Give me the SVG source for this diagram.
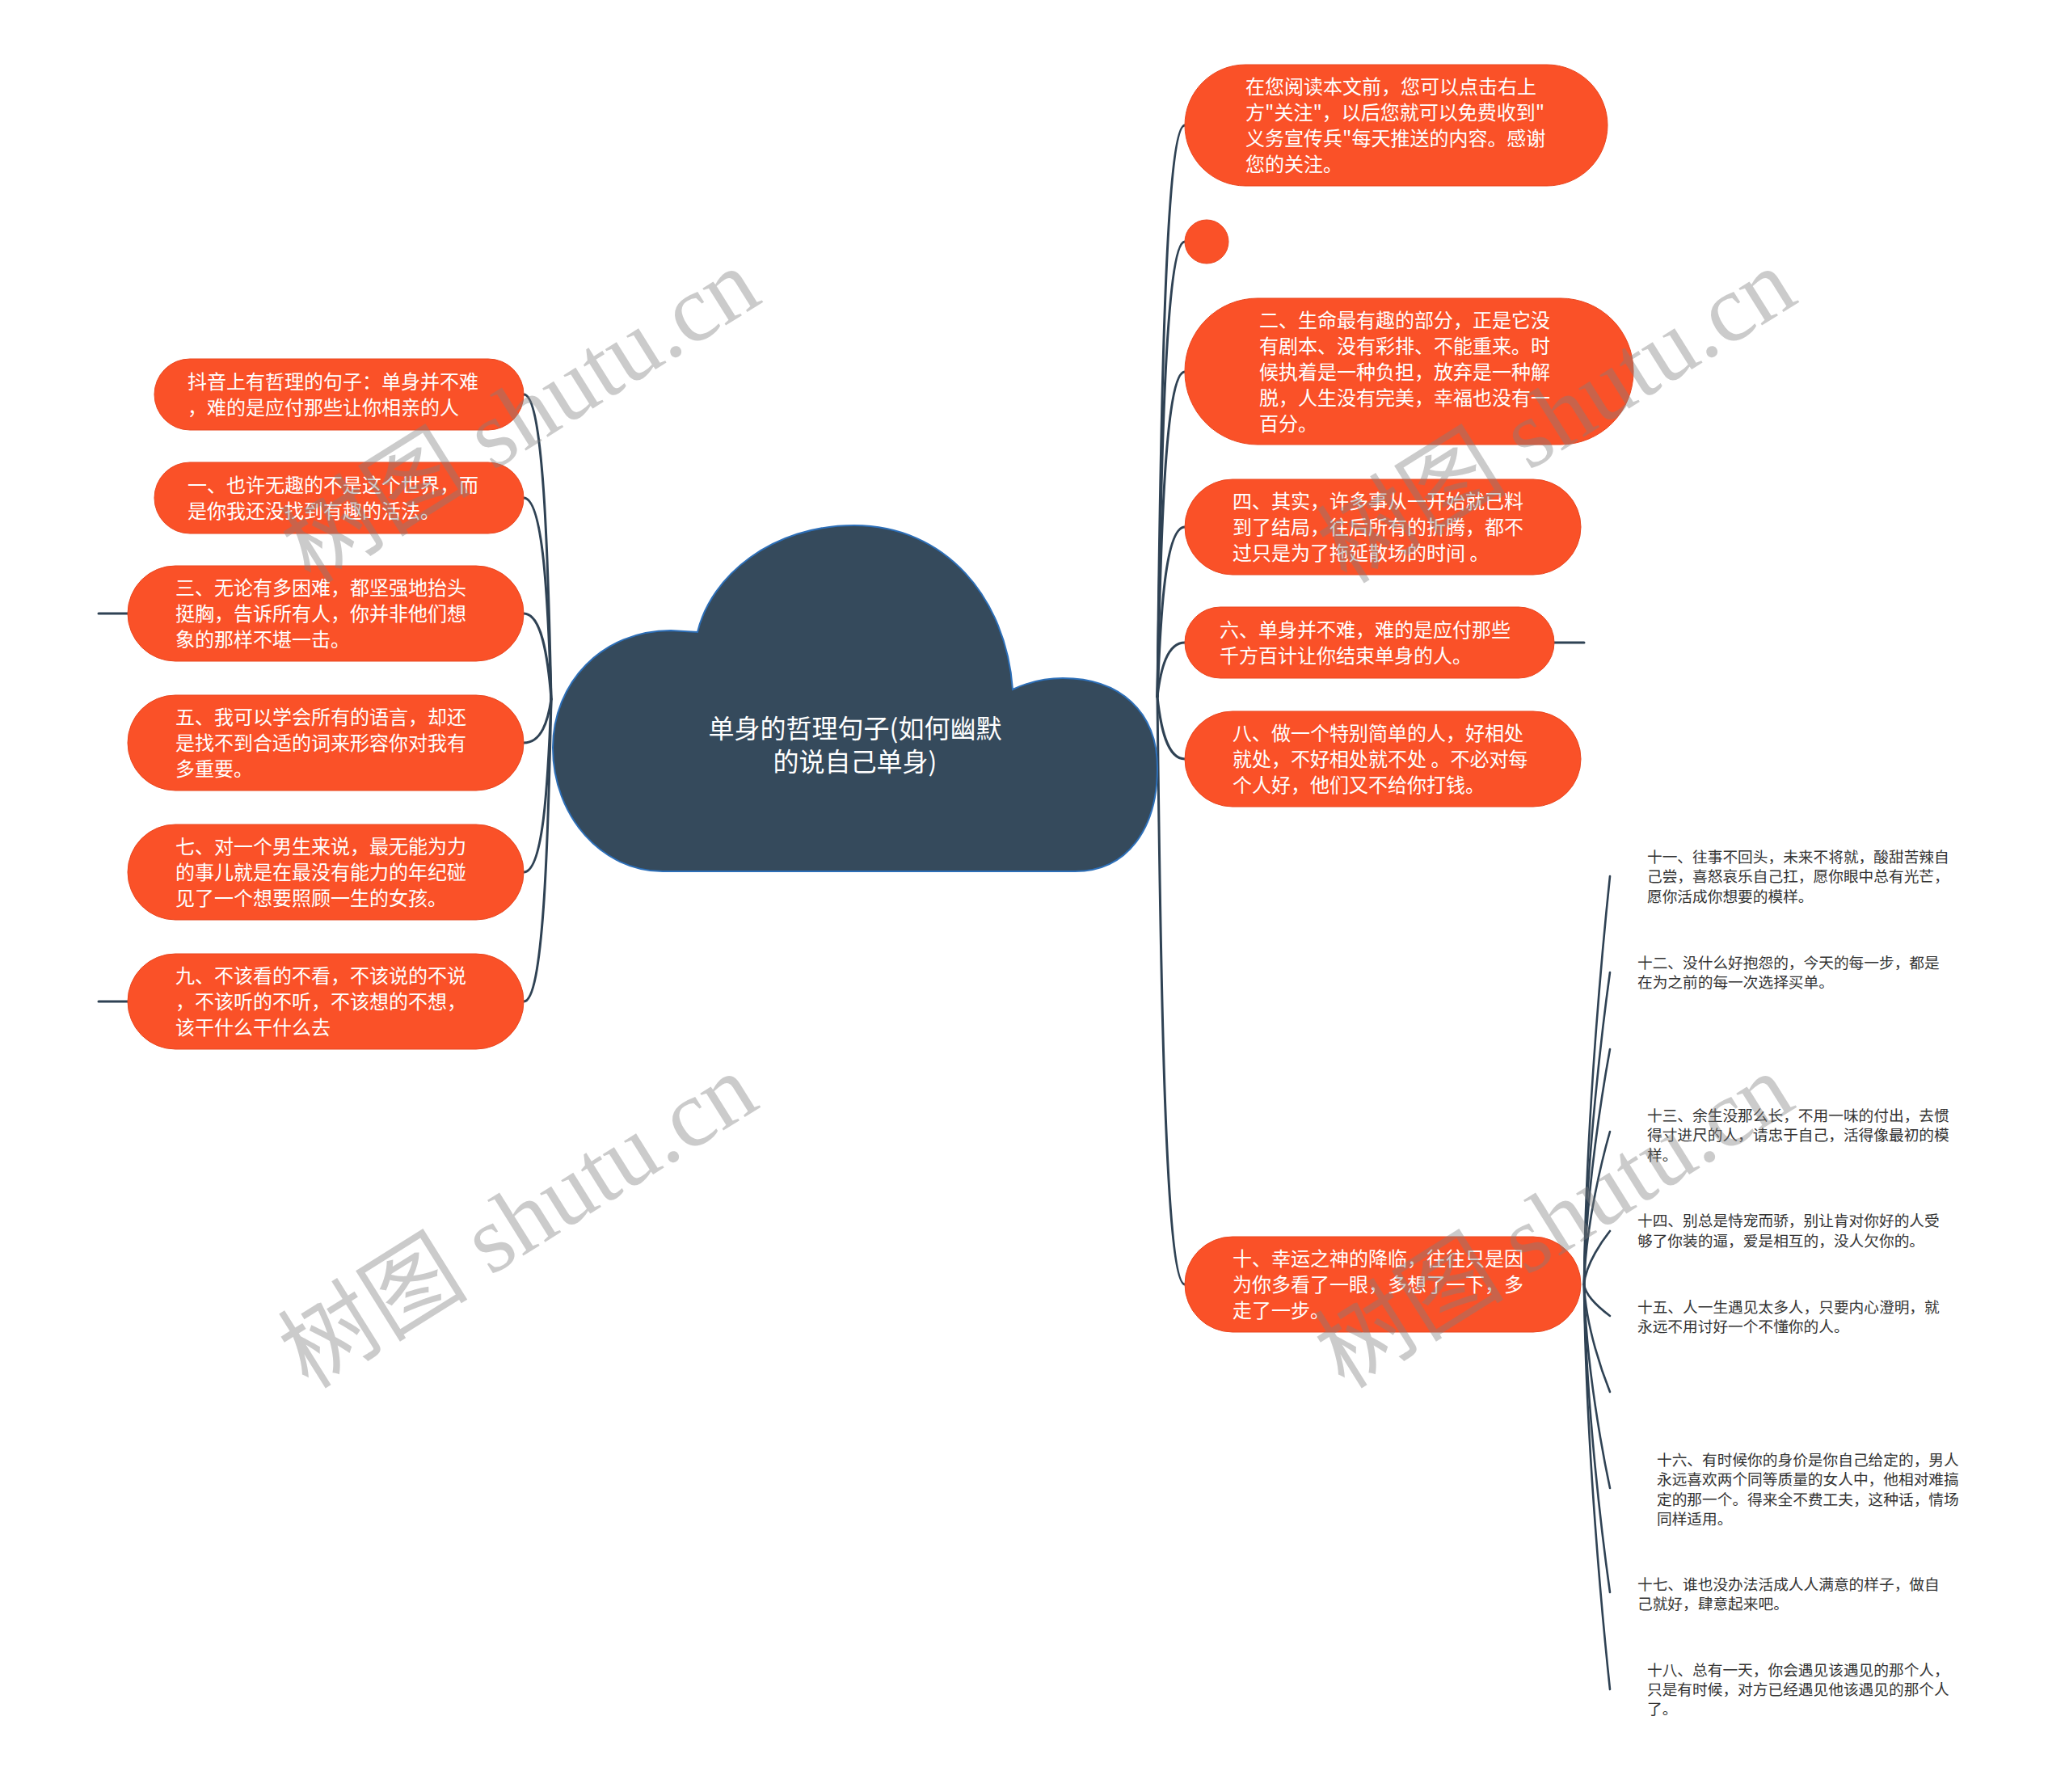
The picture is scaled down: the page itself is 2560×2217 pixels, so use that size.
<svg xmlns="http://www.w3.org/2000/svg" width="2560" height="2217" viewBox="0 0 2560 2217">
<style>
.pill{fill:#fa5128;stroke:#e9461f;stroke-width:1}
.t{font-family:'Noto Sans CJK SC','Noto Sans',sans-serif;font-size:24px;fill:#ffffff;dominant-baseline:central}
.c{font-family:'Noto Sans CJK SC','Noto Sans',sans-serif;font-size:18.7px;fill:#333333;dominant-baseline:central}
.root{font-family:'Noto Sans CJK SC','Noto Sans',sans-serif;font-size:32px;fill:#ffffff;dominant-baseline:central;text-anchor:middle}
.ln{fill:none;stroke:#2f4254;stroke-width:3;stroke-linecap:round}
.lc{fill:none;stroke:#2f4254;stroke-width:2.6;stroke-linecap:round}
.wm{font-family:'Liberation Serif','Noto Sans CJK SC',serif;font-size:118px;fill:#808080;opacity:0.4;text-anchor:middle}
</style>
<rect width="2560" height="2217" fill="#ffffff"/>
<g id="connectors">
<path class="ln" d="M648 488 C672 488 678 677 682 865"/>
<path class="ln" d="M648 616 C672 616 678 740 682 865"/>
<path class="ln" d="M648 759 C670 759 678 812 682 865"/>
<path class="ln" d="M648 919 C670 919 678 892 682 865"/>
<path class="ln" d="M648 1079 C672 1079 678 972 682 865"/>
<path class="ln" d="M648 1239 C672 1239 678 1052 682 865"/>
<path class="ln" d="M122 759 L158 759"/>
<path class="ln" d="M122 1239 L158 1239"/>
<path class="ln" d="M1466 155 C1442 155 1436 508 1432 862"/>
<path class="ln" d="M1466 299 C1442 299 1436 580 1432 862"/>
<path class="ln" d="M1466 460 C1442 460 1436 661 1432 862"/>
<path class="ln" d="M1466 652 C1442 652 1436 757 1432 862"/>
<path class="ln" d="M1466 795 C1444 795 1436 828 1432 862"/>
<path class="ln" d="M1466 939 C1444 939 1436 900 1432 862"/>
<path class="ln" d="M1466 1589 C1442 1589 1436 1225 1432 862"/>
<path class="ln" d="M1923 795 L1960 795"/>
<path class="lc" d="M1992 1084 C1984 1160 1962 1387 1960 1589"/>
<path class="lc" d="M1992 1203 C1984 1261 1962 1435 1960 1589"/>
<path class="lc" d="M1992 1298 C1984 1342 1962 1473 1960 1589"/>
<path class="lc" d="M1992 1400 C1984 1428 1962 1513 1960 1589"/>
<path class="lc" d="M1992 1523 C1984 1533 1962 1563 1960 1589"/>
<path class="lc" d="M1992 1628 C1984 1622 1962 1605 1960 1589"/>
<path class="lc" d="M1992 1722 C1984 1702 1962 1642 1960 1589"/>
<path class="lc" d="M1992 1841 C1984 1803 1962 1690 1960 1589"/>
<path class="lc" d="M1992 1970 C1984 1913 1962 1741 1960 1589"/>
<path class="lc" d="M1992 2090 C1984 2015 1962 1789 1960 1589"/>
</g>
<g id="root">
<path d="M820 1078 C745 1078 684 1010 684 925 C684 845 745 780 830 780 L863 782 C880 712 955 650 1057 650 C1170 650 1245 740 1253 853 C1270 845 1290 839 1315 839 C1385 839 1432 880 1432 950 C1432 1025 1395 1078 1330 1078 Z" fill="#354a5c" stroke="#2d6fb8" stroke-width="2"/>
<text class="root" x="1058" y="899">单身的哲理句子(如何幽默</text>
<text class="root" x="1058" y="940">的说自己单身)</text>
</g>
<g id="n-l1"><rect class="pill" x="191" y="444" width="457" height="88" rx="44"/>
<text class="t" x="232" y="470">抖音上有哲理的句子：单身并不难</text><text class="t" x="232" y="502">，难的是应付那些让你相亲的人</text></g>
<g id="n-l2"><rect class="pill" x="191" y="572" width="457" height="88" rx="44"/>
<text class="t" x="232" y="598">一、也许无趣的不是这个世界，而</text><text class="t" x="232" y="630">是你我还没找到有趣的活法。</text></g>
<g id="n-l3"><rect class="pill" x="158" y="700" width="490" height="118" rx="59"/>
<text class="t" x="217" y="725">三、无论有多困难，都坚强地抬头</text><text class="t" x="217" y="757">挺胸，告诉所有人，你并非他们想</text><text class="t" x="217" y="789">象的那样不堪一击。</text></g>
<g id="n-l4"><rect class="pill" x="158" y="860" width="490" height="118" rx="59"/>
<text class="t" x="217" y="885">五、我可以学会所有的语言，却还</text><text class="t" x="217" y="917">是找不到合适的词来形容你对我有</text><text class="t" x="217" y="949">多重要。</text></g>
<g id="n-l5"><rect class="pill" x="158" y="1020" width="490" height="118" rx="59"/>
<text class="t" x="217" y="1045">七、对一个男生来说，最无能为力</text><text class="t" x="217" y="1077">的事儿就是在最没有能力的年纪碰</text><text class="t" x="217" y="1109">见了一个想要照顾一生的女孩。</text></g>
<g id="n-l6"><rect class="pill" x="158" y="1180" width="490" height="118" rx="59"/>
<text class="t" x="217" y="1205">九、不该看的不看，不该说的不说</text><text class="t" x="217" y="1237">，不该听的不听，不该想的不想，</text><text class="t" x="217" y="1269">该干什么干什么去</text></g>
<g id="n-r1"><rect class="pill" x="1466" y="80" width="523" height="150" rx="75"/>
<text class="t" x="1541" y="105">在您阅读本文前，您可以点击右上</text><text class="t" x="1541" y="137">方"关注"，以后您就可以免费收到"</text><text class="t" x="1541" y="169">义务宣传兵"每天推送的内容。感谢</text><text class="t" x="1541" y="201">您的关注。</text></g>
<g id="n-r2"><circle class="pill" cx="1493" cy="299" r="27"/></g>
<g id="n-r3"><rect class="pill" x="1466" y="369" width="555" height="181" rx="90"/>
<text class="t" x="1558" y="394">二、生命最有趣的部分，正是它没</text><text class="t" x="1558" y="426">有剧本、没有彩排、不能重来。时</text><text class="t" x="1558" y="458">候执着是一种负担，放弃是一种解</text><text class="t" x="1558" y="490">脱，人生没有完美，幸福也没有一</text><text class="t" x="1558" y="522">百分。</text></g>
<g id="n-r4"><rect class="pill" x="1466" y="593" width="490" height="118" rx="59"/>
<text class="t" x="1525" y="618">四、其实，许多事从一开始就已料</text><text class="t" x="1525" y="650">到了结局，往后所有的折腾，都不</text><text class="t" x="1525" y="682">过只是为了拖延散场的时间 。</text></g>
<g id="n-r5"><rect class="pill" x="1466" y="751" width="457" height="88" rx="44"/>
<text class="t" x="1509" y="777">六、单身并不难，难的是应付那些</text><text class="t" x="1509" y="809">千方百计让你结束单身的人。</text></g>
<g id="n-r6"><rect class="pill" x="1466" y="880" width="490" height="118" rx="59"/>
<text class="t" x="1525" y="905">八、做一个特别简单的人，好相处</text><text class="t" x="1525" y="937">就处，不好相处就不处 。不必对每</text><text class="t" x="1525" y="969">个人好，他们又不给你打钱。</text></g>
<g id="n-r7"><rect class="pill" x="1466" y="1530" width="490" height="118" rx="59"/>
<text class="t" x="1525" y="1555">十、幸运之神的降临，往往只是因</text><text class="t" x="1525" y="1587">为你多看了一眼，多想了一下，多</text><text class="t" x="1525" y="1619">走了一步。</text></g>
<g id="n-c1"><text class="c" x="2038" y="1058">十一、往事不回头，未来不将就，酸甜苦辣自</text><text class="c" x="2038" y="1082">己尝，喜怒哀乐自己扛，愿你眼中总有光芒，</text><text class="c" x="2038" y="1107">愿你活成你想要的模样。</text></g>
<g id="n-c2"><text class="c" x="2026" y="1189">十二、没什么好抱怨的，今天的每一步，都是</text><text class="c" x="2026" y="1213">在为之前的每一次选择买单。</text></g>
<g id="n-c3"><text class="c" x="2038" y="1378">十三、余生没那么长，不用一味的付出，去惯</text><text class="c" x="2038" y="1402">得寸进尺的人，请忠于自己，活得像最初的模</text><text class="c" x="2038" y="1427">样。</text></g>
<g id="n-c4"><text class="c" x="2026" y="1508">十四、别总是恃宠而骄，别让肯对你好的人受</text><text class="c" x="2026" y="1533">够了你装的逼，爱是相互的，没人欠你的。</text></g>
<g id="n-c5"><text class="c" x="2026" y="1615">十五、人一生遇见太多人，只要内心澄明，就</text><text class="c" x="2026" y="1639">永远不用讨好一个不懂你的人。</text></g>
<g id="n-c6"><text class="c" x="2050" y="1804">十六、有时候你的身价是你自己给定的，男人</text><text class="c" x="2050" y="1828">永远喜欢两个同等质量的女人中，他相对难搞</text><text class="c" x="2050" y="1853">定的那一个。得来全不费工夫，这种话，情场</text><text class="c" x="2050" y="1877">同样适用。</text></g>
<g id="n-c7"><text class="c" x="2026" y="1958">十七、谁也没办法活成人人满意的样子，做自</text><text class="c" x="2026" y="1982">己就好，肆意起来吧。</text></g>
<g id="n-c8"><text class="c" x="2038" y="2064">十八、总有一天，你会遇见该遇见的那个人，</text><text class="c" x="2038" y="2088">只是有时候，对方已经遇见他该遇见的那个人</text><text class="c" x="2038" y="2112">了。</text></g>
<g id="watermark">
<text class="wm" transform="translate(645 516) rotate(-32)" y="38">树图 shutu.cn</text>
<text class="wm" transform="translate(642 1512) rotate(-32)" y="38">树图 shutu.cn</text>
<text class="wm" transform="translate(1927 516) rotate(-32)" y="38">树图 shutu.cn</text>
<text class="wm" transform="translate(1924 1512) rotate(-32)" y="38">树图 shutu.cn</text>
</g>
</svg>
